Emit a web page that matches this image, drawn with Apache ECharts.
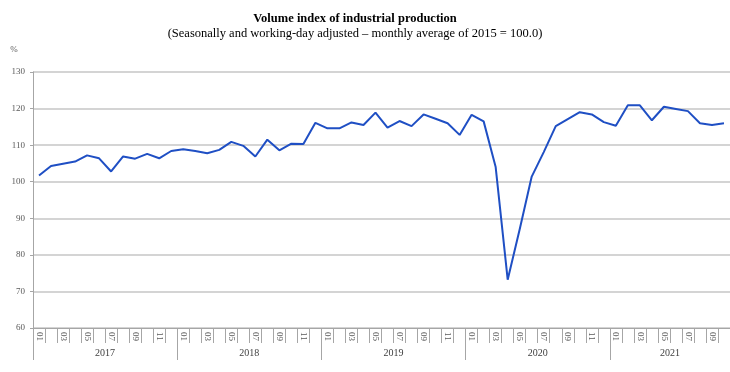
<!DOCTYPE html>
<html><head><meta charset="utf-8">
<script src="https://cdn.jsdelivr.net/npm/echarts@6/dist/echarts.min.js"></script>
<style>html,body{margin:0;padding:0;background:#fff}#c{width:730px;height:372px}</style>
</head><body><div id="c"></div>
<script>
const chartTitle = 'Volume index of industrial production';
const chartSubtitle = '(Seasonally and working-day adjusted \u2013 monthly average of 2015 = 100.0)';
const unitLabel = '%';
const years = ['2017', '2018', '2019', '2020', '2021'];
const monthLabels = ['01','02','03','04','05','06','07','08','09','10','11','12'];
const v2017 = [101.7, 104.3, 104.9, 105.5, 107.2, 106.4, 102.8, 106.9, 106.3, 107.6, 106.4, 108.4];
const v2018 = [108.9, 108.4, 107.8, 108.7, 110.9, 109.8, 106.9, 111.5, 108.6, 110.4, 110.3, 116.1];
const v2019 = [114.6, 114.6, 116.2, 115.5, 118.9, 114.8, 116.6, 115.2, 118.4, 117.2, 116.0, 112.8];
const v2020 = [118.3, 116.5, 104.0, 73.2, 87.0, 101.4, 108.1, 115.2, 117.1, 119.0, 118.4, 116.3];
const v2021 = [115.3, 120.9, 120.9, 116.8, 120.5, 119.9, 119.3, 116.0, 115.5, 116.0];
const valuesByYear = [v2017, v2018, v2019, v2020, v2021];
const yMin = 60, yMax = 130, yStep = 10;

const cats = [], yearOf = [], monthOf = [], values = [];
valuesByYear.forEach((arr, yi) => arr.forEach((v, mi) => {
  cats.push(years[yi] + '-' + monthLabels[mi]);
  yearOf.push(years[yi]); monthOf.push(monthLabels[mi]); values.push(v);
}));
const yearLabelIdx = new Set();
years.forEach((y, yi) => {
  const start = yearOf.indexOf(y);
  const n = valuesByYear[yi].length;
  yearLabelIdx.add(start + Math.ceil(n / 2) - 1);
});

const serif = '"Liberation Serif", "DejaVu Serif", serif';
const axisGray = '#a6a6a6';
const chart = echarts.init(document.getElementById('c'));
chart.setOption({
  animation: false,
  backgroundColor: '#fff',
  title: {
    text: chartTitle,
    subtext: chartSubtitle,
    left: 350, textAlign: 'center', top: 7, itemGap: 2,
    textStyle: { fontFamily: serif, fontSize: 12.5, fontWeight: 'bold', color: '#000' },
    subtextStyle: { fontFamily: serif, fontSize: 12.5, color: '#000' }
  },
  grid: { left: 33, right: 0, top: 72, bottom: 44 },
  xAxis: [{
    type: 'category', data: cats, boundaryGap: true,
    axisLine: { show: true, lineStyle: { color: axisGray, width: 1 } },
    axisTick: { show: true, interval: 0, length: 15, lineStyle: { color: axisGray } },
    axisLabel: { interval: 1, rotate: -90, margin: 4, formatter: v => v.slice(5),
      fontFamily: serif, fontSize: 9, color: '#595959' },
    splitLine: { show: false }
  }, {
    type: 'category', data: cats, boundaryGap: true, position: 'bottom',
    axisLine: { show: false },
    axisTick: { show: true, interval: (i) => monthOf[i] === '01', length: 32,
      lineStyle: { color: axisGray } },
    axisLabel: { interval: (i) => yearLabelIdx.has(i), formatter: v => v.slice(0, 4),
      margin: 20, padding: [0, 0, 0, 12], fontFamily: serif, fontSize: 10, color: '#404040' },
    splitLine: { show: false }
  }],
  yAxis: {
    type: 'value', min: yMin, max: yMax, interval: yStep,
    name: unitLabel, nameLocation: 'end', nameGap: 18,
    nameTextStyle: { fontFamily: serif, fontSize: 9, color: '#595959', align: 'center', padding: [0, 38, 0, 0] },
    axisLine: { show: true, lineStyle: { color: axisGray, width: 1 } },
    axisTick: { show: true, length: 3, lineStyle: { color: axisGray } },
    axisLabel: { margin: 8, fontFamily: serif, fontSize: 9, color: '#595959' },
    splitLine: { show: true, lineStyle: { color: '#d4d4d4', width: 2 } }
  },
  series: [{
    type: 'line', data: values, xAxisIndex: 0, symbol: 'none',
    lineStyle: { color: '#1f4fc4', width: 2 }
  }]
});
</script></body></html>
